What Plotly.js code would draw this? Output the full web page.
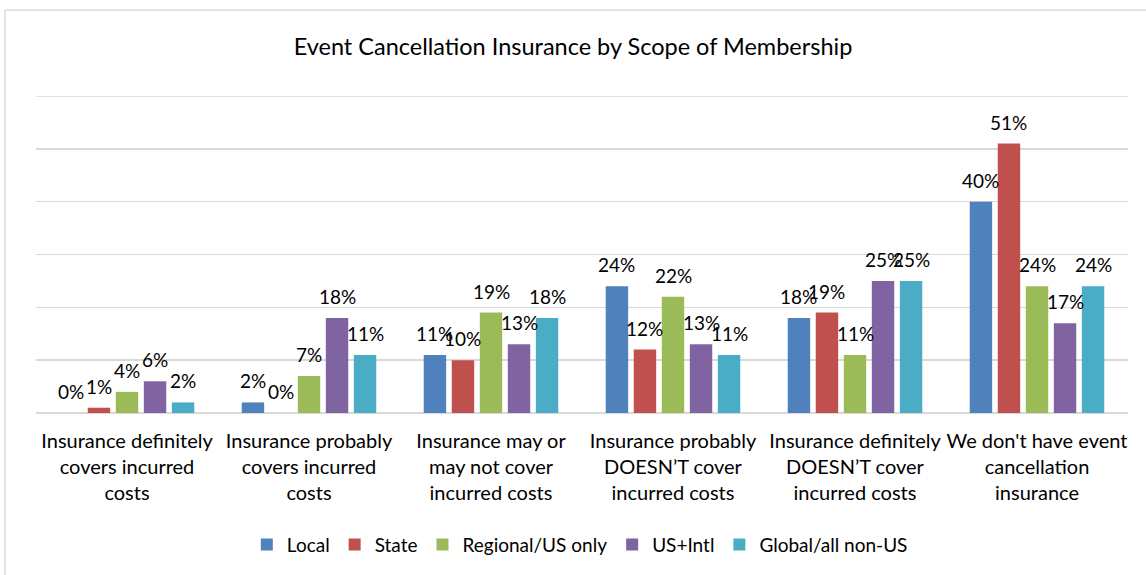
<!DOCTYPE html>
<html>
<head>
<meta charset="utf-8">
<script src="https://cdn.plot.ly/plotly-3.0.1.min.js"></script>
<style>html,body{margin:0;padding:0;background:#fff;}#chart{width:1146px;height:575px;}</style>
</head>
<body>
<div id="chart"></div>
<script>
const categories = [
  "Insurance definitely<br>covers incurred<br>costs",
  "Insurance probably<br>covers incurred<br>costs",
  "Insurance may or<br>may not cover<br>incurred costs",
  "Insurance probably<br>DOESN\u2019T cover<br>incurred costs",
  "Insurance definitely<br>DOESN\u2019T cover<br>incurred costs",
  "We don't have event<br>cancellation<br>insurance"
];
const seriesNames = ["Local", "State", "Regional/US only", "US+Intl", "Global/all non-US"];
const local    = [0, 2, 11, 24, 18, 40];
const state    = [1, 0, 10, 12, 19, 51];
const regional = [4, 7, 19, 22, 11, 24];
const usIntl   = [6, 18, 13, 13, 25, 17];
const global   = [2, 11, 18, 11, 25, 24];
const colors = ["#4F81BD", "#C0504D", "#9BBB59", "#8064A2", "#4BACC6"];
const allValues = [local, state, regional, usIntl, global];
const yMax = 60;

const FONT = "Lato, 'Liberation Sans', sans-serif";
const BARGAP = 0.23;
const nSeries = allValues.length;

const traces = allValues.map((vals, i) => ({
  type: "bar",
  name: seriesNames[i],
  x: categories,
  y: vals,
  marker: {color: colors[i]},
  hoverinfo: "skip"
}));

// data labels placed over each bar via the axis scales
const slot = (1 - BARGAP) / nSeries;
const annotations = [];
allValues.forEach((vals, i) => {
  vals.forEach((v, c) => {
    annotations.push({
      xref: "x", yref: "y",
      x: c + (i - (nSeries - 1) / 2) * slot,
      y: v,
      text: v + "%",
      showarrow: false,
      xanchor: "center", yanchor: "bottom",
      yshift: 8,
      font: {family: FONT, size: 19, color: "#000"}
    });
  });
});

const layout = {
  width: 1146, height: 575,
  margin: {l: 36, r: 18, t: 96, b: 162},
  paper_bgcolor: "#fff", plot_bgcolor: "#fff",
  font: {family: FONT, color: "#000"},
  title: {text: "Event Cancellation Insurance by Scope of Membership",
          font: {family: FONT, size: 23.5, color: "#000"},
          x: 0.5, xanchor: "center", y: 0.918, yanchor: "middle"},
  barmode: "group",
  bargap: BARGAP,
  bargroupgap: 0.2,
  showlegend: true,
  legend: {orientation: "h", x: 0.498, xanchor: "center", y: -0.415, yanchor: "middle",
           font: {family: FONT, size: 19, color: "#000"}, itemwidth: 30, traceorder: "normal"},
  xaxis: {showgrid: false, showline: false, ticks: "", tickfont: {family: FONT, size: 20, color: "#000"},
          ticklabelstandoff: 14},
  yaxis: {range: [0, yMax], dtick: 10, showticklabels: false, gridcolor: "#d9d9d9", gridwidth: 1.5,
          zeroline: true, zerolinecolor: "#d9d9d9", zerolinewidth: 1.5, ticks: "", fixedrange: true},
  annotations: annotations,
  shapes: [
    {type: "line", xref: "paper", yref: "y", x0: 0, x1: 1, y0: yMax, y1: yMax, layer: "below",
     line: {color: "#d9d9d9", width: 1.5}},
    {type: "line", xref: "paper", yref: "paper", x0: -0.0284, x1: 1.02, y0: 1.271, y1: 1.271,
     line: {color: "#d9d9d9", width: 1.5}},
    {type: "line", xref: "paper", yref: "paper", x0: -0.0284, x1: -0.0284, y0: 1.271, y1: -0.52,
     line: {color: "#d9d9d9", width: 1.5}}
  ]
};

Plotly.newPlot("chart", traces, layout, {displayModeBar: false, staticPlot: true});
</script>
</body>
</html>
